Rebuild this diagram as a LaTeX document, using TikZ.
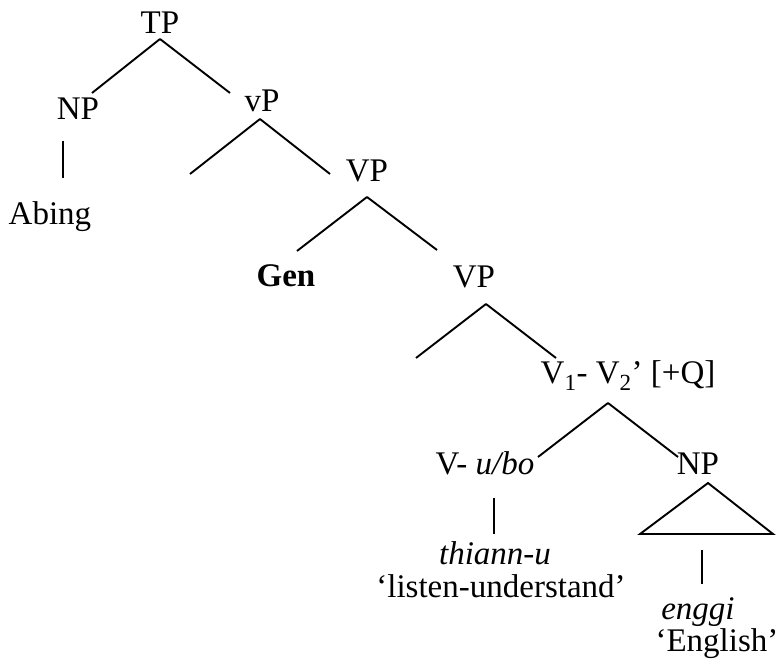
\documentclass[tikz,border=0pt]{standalone}
\usepackage{fontspec}
\setmainfont{Liberation Serif}
\usepackage{tikz}

\begin{document}
\begin{tikzpicture}[x=1pt, y=1pt, line width=1.9pt,
    lab/.style={inner sep=0pt, anchor=base, font=\fontsize{33}{39}\selectfont}]
    \useasboundingbox (0,0) rectangle (780,662);

    \node[lab] (TP) at (160,628) {TP};
    \node[lab] (NP) at (78,542) {NP};
    \node[lab] (Abing) at (50,437) {Abing};
    \node[lab] (vP) at (262,550) {vP};
    \node[lab] (VP) at (367,480) {VP};
    \node[lab] (Gen) at (286,375) {\textbf{Gen}};
    \node[lab] (VPb) at (474,374) {VP};
    \node[lab] (VV) at (628,278) {V\textsubscript{1}- V\textsubscript{2}’ [+Q]};
    \node[lab] (Vubo) at (485,187) {V- \textit{u/bo}};
    \node[lab] (NPb) at (698,187) {NP};
    \node[lab] (thiann) at (495,97) {\textit{thiann-u}};
    \node[lab] (listen) at (501,64) {‘listen-understand’};
    \node[lab] (enggi) at (698,42) {\textit{enggi}};
    \node[lab] (English) at (717,10) {‘English’};

    \coordinate (vPL) at (190,488);
    \coordinate (VPbL) at (416,304);

    \path ([yshift=-5pt]TP.base) edge ([xshift=14pt,yshift=27pt]NP.base)
          ([yshift=-5pt]TP.base) edge ([xshift=-32pt,yshift=19pt]vP.base)
          ([xshift=-15pt,yshift=-21pt]NP.base) edge ([xshift=13pt,yshift=47pt]Abing.base)
          ([xshift=-2pt,yshift=-7pt]vP.base) edge (vPL)
          ([xshift=-2pt,yshift=-7pt]vP.base) edge ([xshift=-37pt,yshift=8pt]VP.base)
          ([yshift=-15pt]VP.base) edge ([xshift=11pt,yshift=36pt]Gen.base)
          ([yshift=-15pt]VP.base) edge ([xshift=-37pt,yshift=38pt]VPb.base)
          ([xshift=12pt,yshift=-16pt]VPb.base) edge (VPbL)
          ([xshift=12pt,yshift=-16pt]VPb.base) edge ([xshift=-72pt,yshift=26pt]VV.base)
          ([xshift=-20pt,yshift=-19pt]VV.base) edge ([xshift=53pt,yshift=18pt]Vubo.base)
          ([xshift=-20pt,yshift=-19pt]VV.base) edge ([xshift=-20pt,yshift=18pt]NPb.base)
          ([xshift=9pt,yshift=-23pt]Vubo.base) edge ([xshift=-1pt,yshift=31pt]thiann.base)
          ([xshift=4pt,yshift=70pt]enggi.base) edge ([xshift=4pt,yshift=36pt]enggi.base);

    \draw ([xshift=10pt,yshift=-8pt]NPb.base) -- ([xshift=-58pt,yshift=-59pt]NPb.base)
          -- ([xshift=75pt,yshift=-59pt]NPb.base) -- cycle;
\end{tikzpicture}
\end{document}
